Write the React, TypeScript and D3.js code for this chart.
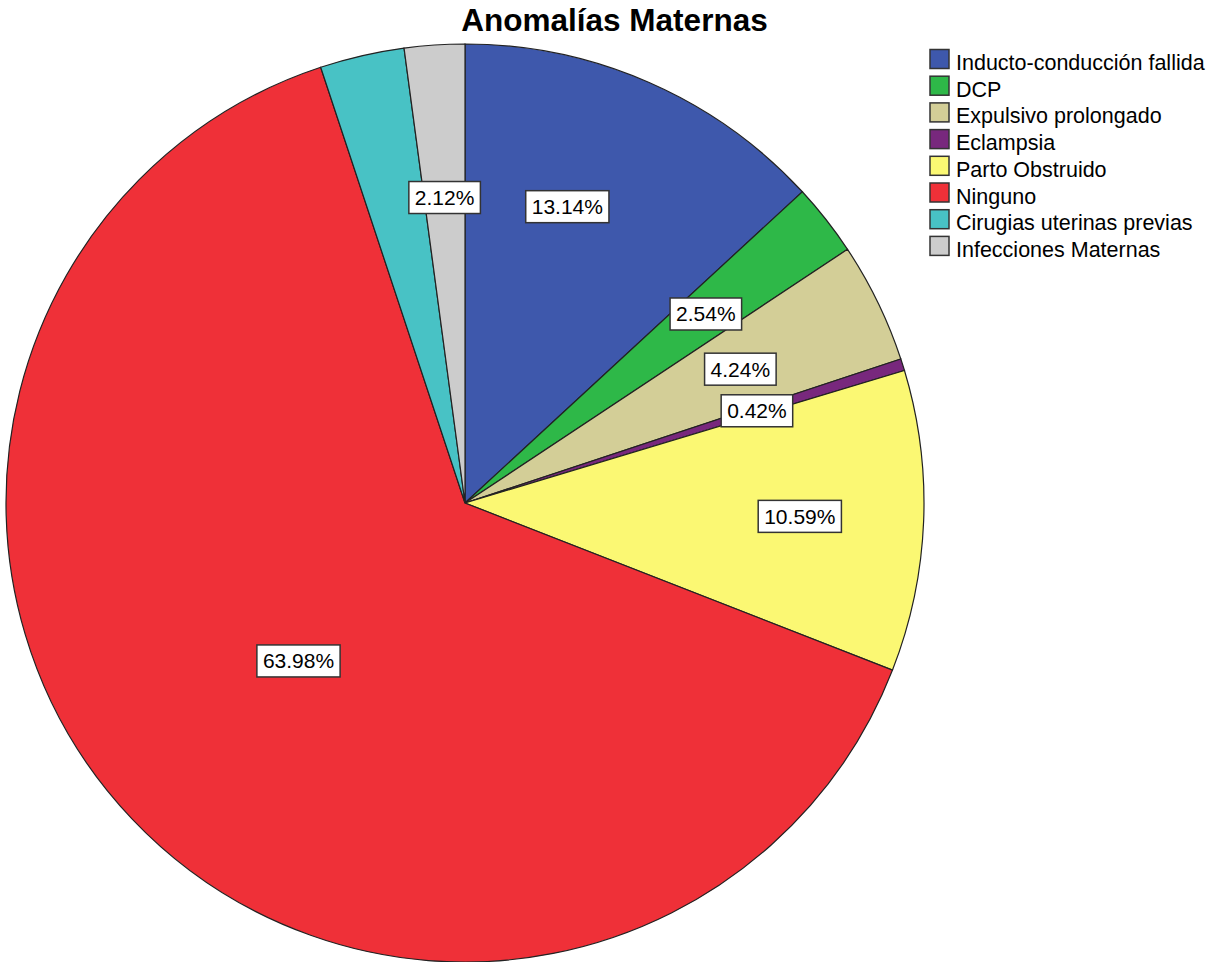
import * as d3 from "d3";
import { useMemo } from "react";

// chart values (percent of cases)
const categories = [
  "Inducto-conducción fallida",
  "DCP",
  "Expulsivo prolongado",
  "Eclampsia",
  "Parto Obstruido",
  "Ninguno",
  "Cirugias uterinas previas",
  "Infecciones Maternas",
];
const percents = [13.14, 2.54, 4.24, 0.42, 10.59, 63.98, 2.97, 2.12];
const sliceColors = [
  "#3e58ac",
  "#2eb848",
  "#d3ce97",
  "#78287d",
  "#fbf873",
  "#ef3038",
  "#48c2c5",
  "#cccccc",
];
const unlabeled = ["Cirugias uterinas previas"];
const title = "Anomalías Maternas";

// label placement tweaks (radius as share of the pie radius, angle shift in degrees)
const labelTweaks: Record<string, { r?: number; da?: number }> = {
  "Inducto-conducción fallida": { r: 0.683, da: -4.6 },
  "Parto Obstruido": { r: 0.73 },
  Ninguno: { r: 0.5 },
};

const W = 1207;
const H = 962;
const FONT = "'Liberation Sans', Arial, sans-serif";

export default function App() {
  const cx = 465;
  const cy = 503;
  const R = 459;

  const arcs = useMemo(() => {
    const rows = categories.map((c, i) => ({ label: c, value: percents[i], color: sliceColors[i] }));
    return d3.pie<any>().sort(null).value((d) => d.value)(rows);
  }, []);

  const arc = d3.arc<any>().innerRadius(0).outerRadius(R);

  const labelPos = (d: any) => {
    const t = labelTweaks[d.data.label] || {};
    const r = (t.r ?? 0.667) * R;
    const a = (d.startAngle + d.endAngle) / 2 + ((t.da ?? 0) * Math.PI) / 180;
    return [Math.sin(a) * r, -Math.cos(a) * r];
  };

  const labelSize = 21;
  const textW = (s: string) =>
    s.split("").reduce((acc, ch) => acc + (ch === "." ? 0.278 : ch === "%" ? 0.889 : 0.556), 0) * labelSize;

  return (
    <svg width={W} height={H} style={{ position: "absolute", left: 0, top: 0, background: "#fff" }}>
      <text x={614.5} y={31} textAnchor="middle" fontFamily={FONT} fontWeight="bold" fontSize={31.5} fill="#000">
        {title}
      </text>
      <g transform={`translate(${cx},${cy})`}>
        {arcs.map((d, i) => (
          <path key={i} d={arc(d) || ""} fill={d.data.color} stroke="#222" strokeWidth={1.2} />
        ))}
        {arcs
          .filter((d) => !unlabeled.includes(d.data.label))
          .map((d, i) => {
            const [x, y] = labelPos(d);
            const txt = `${d.data.value.toFixed(2)}%`;
            const w = textW(txt) + 12;
            const h = 32;
            return (
              <g key={i} transform={`translate(${x},${y})`}>
                <rect x={-w / 2} y={-h / 2} width={w} height={h} fill="#fff" stroke="#333" strokeWidth={1.5} />
                <text y={7.5} textAnchor="middle" fontFamily={FONT} fontSize={labelSize} fill="#000">
                  {txt}
                </text>
              </g>
            );
          })}
      </g>
      <g>
        {categories.map((c, i) => {
          const base = 70 + i * 26.7;
          return (
            <g key={c}>
              <rect x={930} y={base - 20.5} width={19} height={19} fill={sliceColors[i]} stroke="#333" strokeWidth={1.5} />
              <text x={956} y={base} fontFamily={FONT} fontSize={21.5} fill="#000">
                {c}
              </text>
            </g>
          );
        })}
      </g>
    </svg>
  );
}
